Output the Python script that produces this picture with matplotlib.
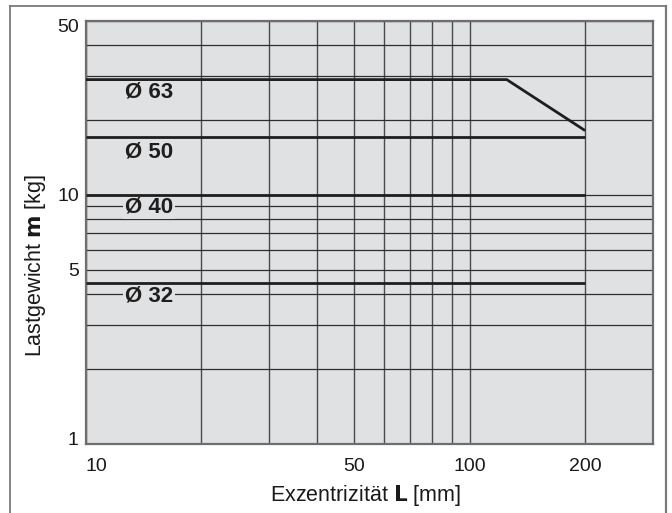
import matplotlib
matplotlib.use("Agg")
import matplotlib.pyplot as plt
from matplotlib.transforms import ScaledTranslation
from matplotlib.lines import Line2D

plt.rcParams['font.family'] = ['Liberation Sans', 'DejaVu Sans']

# Data
sizes = ["Ø 63", "Ø 50", "Ø 40", "Ø 32"]
ecc_63 = [10, 125, 200]
load_63 = [29, 29, 18.1]
ecc_flat = [10, 200]
load_50 = [17, 17]
load_40 = [10, 10]
load_32 = [4.4, 4.4]
label_x = [14.6, 14.6, 14.6, 14.6]
label_y = [25.9, 14.9, 8.95, 3.92]

x_major = [10, 50, 100, 200]
x_minor = [20, 30, 40, 60, 70, 80, 90]
y_major = [1, 5, 10, 50]
y_minor = [2, 3, 4, 6, 7, 8, 9, 20, 30, 40]

bg = '#e0e1e3'
fig = plt.figure(figsize=(6.72, 5.13), dpi=100)
ax = fig.add_axes([85.7/672, 1-443.7/513, (652.7-85.7)/672, (443.7-20.7)/513])
ax.set_facecolor(bg)
ax.set_xscale('log')
ax.set_yscale('log')
ax.set_xlim(10, 300)
ax.set_ylim(1, 50)

ax.set_xticks(x_major)
ax.set_xticklabels([str(v) for v in x_major])
ax.set_xticks(x_minor, minor=True)
ax.set_yticks(y_major)
ax.set_yticklabels([str(v) for v in y_major])
ax.set_yticks(y_minor, minor=True)
ax.tick_params(which='both', length=0, labelsize=14, colors='#1a1a1a')
ax.tick_params(axis='x', which='minor', labelbottom=False)
ax.tick_params(axis='y', which='minor', labelleft=False)
ax.tick_params(axis='x', pad=10)
ax.tick_params(axis='y', pad=5)

ax.grid(True, which='both', axis='x', color='#4a4a4a', lw=1.0)
ax.grid(True, which='both', axis='y', color='#2e2e2e', lw=0.9)
ax.set_axisbelow(True)

for s in ax.spines.values():
    s.set_color('#6e6e6e')
    s.set_linewidth(1.6)

lw = 2.0
c = '#1e1e1e'
ax.plot(ecc_63, load_63, color=c, lw=lw, solid_capstyle='butt', zorder=3)
ax.plot(ecc_flat, load_50, color=c, lw=lw, solid_capstyle='butt', zorder=3)
ax.plot(ecc_flat, load_40, color=c, lw=lw, solid_capstyle='butt', zorder=3)
ax.plot(ecc_flat, load_32, color=c, lw=lw, solid_capstyle='butt', zorder=3)

for t, xx, yy in zip(sizes, label_x, label_y):
    ax.text(xx, yy, t, ha='center', va='center', fontsize=16, fontweight='bold',
            color='#1e1e1e', zorder=2.5,
            bbox=dict(facecolor=bg, edgecolor='none', boxstyle='square,pad=0.1'))

# shift edge tick labels inward like the reference
xl = ax.get_xticklabels()
xl[0].set_transform(xl[0].get_transform() + ScaledTranslation(11/100, 0, fig.dpi_scale_trans))
yl = ax.get_yticklabels()
yl[0].set_transform(yl[0].get_transform() + ScaledTranslation(0, 5/100, fig.dpi_scale_trans))
yl[-1].set_transform(yl[-1].get_transform() + ScaledTranslation(0, -5/100, fig.dpi_scale_trans))

fig.text(366/672, 1-496/513, r"Exzentrizität $\mathbf{L}$ [mm]", ha='center', va='center',
         fontsize=15.5, color='#1a1a1a')
fig.text(36/672, 1-265/513, r"Lastgewicht $\mathbf{m}$ [kg]", ha='center', va='center',
         rotation=90, fontsize=15.5, color='#1a1a1a')

# outer frame
fc = '#7a7a7a'
fig.add_artist(Line2D([10/672, 10/672], [0, 1-5.5/513], transform=fig.transFigure, color=fc, lw=1.3))
fig.add_artist(Line2D([666/672, 666/672], [0, 1-5.5/513], transform=fig.transFigure, color=fc, lw=1.6))
fig.add_artist(Line2D([10/672, 666/672], [1-5.5/513, 1-5.5/513], transform=fig.transFigure, color=fc, lw=1.3))

fig.savefig('out.png', dpi=100)
